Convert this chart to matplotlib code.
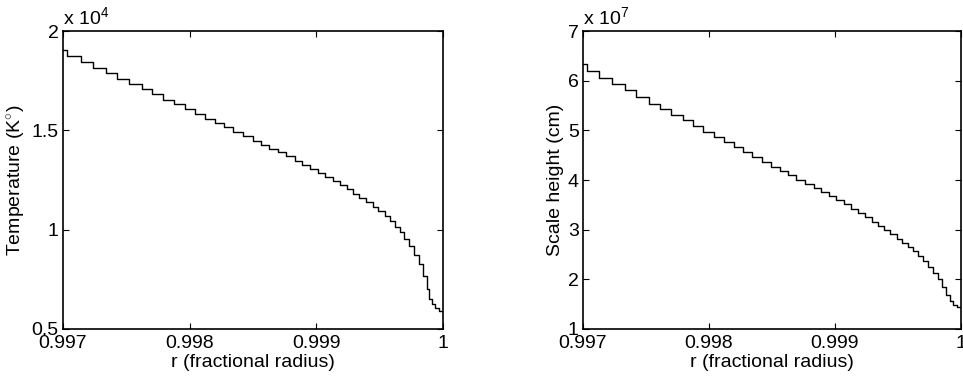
import matplotlib
matplotlib.use('Agg')
import matplotlib.pyplot as plt
import numpy as np

plt.rcParams['font.family'] = ['Liberation Sans', 'DejaVu Sans']
plt.rcParams['mathtext.fontset'] = 'custom'
plt.rcParams['mathtext.rm'] = 'Liberation Sans'
plt.rcParams['mathtext.it'] = 'Liberation Sans'
plt.rcParams['font.size'] = 14

# step edges in r (fractional radius)
r_temp = [0.99703, 0.99714, 0.99724, 0.99734, 0.99743, 0.99752, 0.99762, 0.99770,
          0.99779, 0.99788, 0.99796, 0.99804, 0.99812, 0.99820, 0.99827, 0.99834,
          0.99842, 0.99850, 0.99856, 0.99863, 0.99870, 0.99876, 0.99883, 0.99889,
          0.99895, 0.99901, 0.99907, 0.99913, 0.99919, 0.99924, 0.99929, 0.99934,
          0.99939, 0.99945, 0.99949, 0.99954, 0.99958, 0.99962, 0.99966, 0.99969,
          0.99973, 0.99977, 0.99981, 0.99984, 0.99987, 0.99989, 0.99991, 0.99994,
          0.99997]
# temperature levels (x 1e4 K)
temp = [1.904, 1.876, 1.843, 1.815, 1.787, 1.760, 1.735, 1.707, 1.681, 1.654,
        1.633, 1.607, 1.582, 1.559, 1.537, 1.515, 1.493, 1.472, 1.448, 1.428,
        1.408, 1.390, 1.369, 1.348, 1.326, 1.306, 1.287, 1.265, 1.245, 1.223,
        1.203, 1.181, 1.161, 1.141, 1.116, 1.093, 1.069, 1.044, 1.015, 0.988,
        0.955, 0.918, 0.874, 0.826, 0.769, 0.700, 0.651, 0.626, 0.604, 0.589]

r_height = [0.99703, 0.99713, 0.99723, 0.99733, 0.99742, 0.99752, 0.99761, 0.99770,
            0.99779, 0.99787, 0.99795, 0.99804, 0.99812, 0.99820, 0.99827, 0.99834,
            0.99842, 0.99849, 0.99856, 0.99863, 0.99869, 0.99876, 0.99883, 0.99889,
            0.99895, 0.99901, 0.99907, 0.99913, 0.99918, 0.99924, 0.99929, 0.99934,
            0.99939, 0.99944, 0.99949, 0.99953, 0.99958, 0.99962, 0.99966, 0.99970,
            0.99974, 0.99978, 0.99982, 0.99985, 0.99988, 0.99991, 0.99994, 0.99997]
# scale height levels (x 1e7 cm)
height = [6.330, 6.201, 6.060, 5.927, 5.806, 5.665, 5.536, 5.424, 5.309, 5.202,
          5.081, 4.973, 4.866, 4.771, 4.665, 4.570, 4.469, 4.369, 4.268, 4.181,
          4.101, 4.006, 3.926, 3.833, 3.765, 3.678, 3.598, 3.511, 3.422, 3.330,
          3.249, 3.161, 3.080, 2.994, 2.907, 2.818, 2.738, 2.651, 2.565, 2.470,
          2.369, 2.255, 2.134, 2.001, 1.840, 1.685, 1.570, 1.484, 1.433]

x_ticks = [0.997, 0.998, 0.999, 1.0]
x_labels = ['0.997', '0.998', '0.999', '1']

fig = plt.figure(figsize=(9.63, 3.83), dpi=100)
ax1 = fig.add_axes([0.0654, 0.141, 0.3946, 0.778])
ax2 = fig.add_axes([0.6054, 0.141, 0.3925, 0.778])


def draw_panel(ax, r, vals, ylim, yticks, ylabels, ylabel, power):
    xs = np.r_[0.997, r, 1.0]
    ys = np.r_[vals, vals[-1]]
    ax.step(xs, ys, where='post', color='black', lw=1.0)
    ax.set_xlim(0.997, 1.0)
    ax.set_ylim(*ylim)
    ax.set_xticks(x_ticks)
    ax.set_xticklabels(x_labels)
    ax.set_yticks(yticks)
    ax.set_yticklabels(ylabels)
    ax.tick_params(direction='in', top=True, right=True, length=4,
                   width=0.8, labelsize=14)
    ax.tick_params(axis='x', pad=4)
    ax.tick_params(axis='y', pad=3)
    for s in ax.spines.values():
        s.set_linewidth(1.2)
    ax.set_xlabel('r (fractional radius)', fontsize=14, labelpad=2)
    ax.set_ylabel(ylabel, fontsize=14, labelpad=3)
    ax.annotate('x 10$^{%d}$' % power, xy=(0, 1), xycoords='axes fraction',
                xytext=(0, 2), textcoords='offset points',
                ha='left', va='bottom', fontsize=14)


draw_panel(ax1, r_temp, temp, (0.5, 2.0), [0.5, 1.0, 1.5, 2.0],
           ['0.5', '1', '1.5', '2'], r'Temperature (K$^{\circ}$)', 4)
draw_panel(ax2, r_height, height, (1, 7), [1, 2, 3, 4, 5, 6, 7],
           ['1', '2', '3', '4', '5', '6', '7'], 'Scale height (cm)', 7)

fig.savefig('out.png', dpi=100)
